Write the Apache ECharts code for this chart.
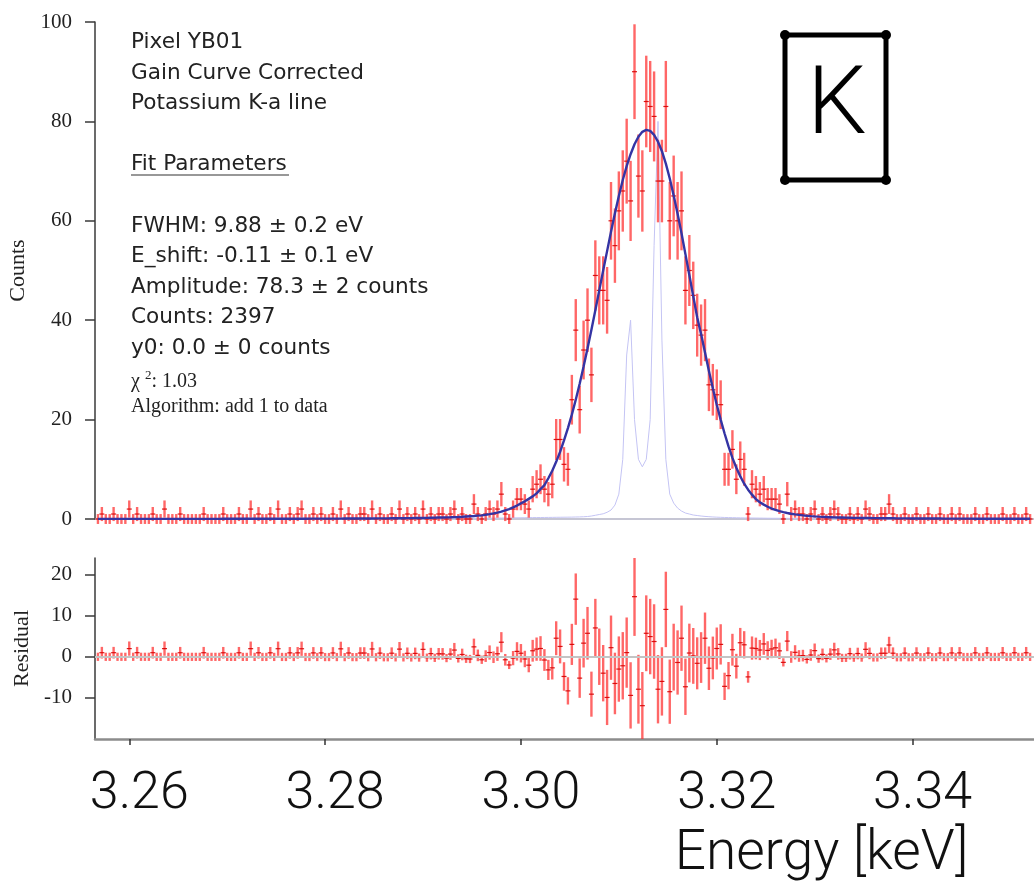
<!DOCTYPE html>
<html><head><meta charset="utf-8">
<script src="https://cdn.jsdelivr.net/npm/echarts@6/dist/echarts.min.js"></script>
<style>html,body{margin:0;padding:0;background:#fff}#c{width:1034px;height:881px}</style>
</head><body><div id="c"></div>
<script>
// ---- data ----
const energy = [
3.2568,3.2572,3.2576,3.2580,3.2584,3.2588,3.2592,3.2596,3.2600,3.2604,
3.2608,3.2612,3.2616,3.2620,3.2624,3.2628,3.2632,3.2636,3.2640,3.2644,
3.2648,3.2652,3.2656,3.2660,3.2664,3.2668,3.2672,3.2676,3.2680,3.2684,
3.2688,3.2692,3.2696,3.2700,3.2704,3.2708,3.2712,3.2716,3.2720,3.2724,
3.2728,3.2732,3.2736,3.2740,3.2744,3.2748,3.2752,3.2756,3.2760,3.2764,
3.2768,3.2772,3.2776,3.2780,3.2784,3.2788,3.2792,3.2796,3.2800,3.2804,
3.2808,3.2812,3.2816,3.2820,3.2824,3.2828,3.2832,3.2836,3.2840,3.2844,
3.2848,3.2852,3.2856,3.2860,3.2864,3.2868,3.2872,3.2876,3.2880,3.2884,
3.2888,3.2892,3.2896,3.2900,3.2904,3.2908,3.2912,3.2916,3.2920,3.2924,
3.2928,3.2932,3.2936,3.2940,3.2944,3.2948,3.2952,3.2956,3.2960,3.2964,
3.2968,3.2972,3.2976,3.2980,3.2984,3.2988,3.2992,3.2996,3.3000,3.3004,
3.3008,3.3012,3.3016,3.3020,3.3024,3.3028,3.3032,3.3036,3.3040,3.3044,
3.3048,3.3052,3.3056,3.3060,3.3064,3.3068,3.3072,3.3076,3.3080,3.3084,
3.3088,3.3092,3.3096,3.3100,3.3104,3.3108,3.3112,3.3116,3.3120,3.3124,
3.3128,3.3132,3.3136,3.3140,3.3144,3.3148,3.3152,3.3156,3.3160,3.3164,
3.3168,3.3172,3.3176,3.3180,3.3184,3.3188,3.3192,3.3196,3.3200,3.3204,
3.3208,3.3212,3.3216,3.3220,3.3224,3.3228,3.3232,3.3236,3.3240,3.3244,
3.3248,3.3252,3.3256,3.3260,3.3264,3.3268,3.3272,3.3276,3.3280,3.3284,
3.3288,3.3292,3.3296,3.3300,3.3304,3.3308,3.3312,3.3316,3.3320,3.3324,
3.3328,3.3332,3.3336,3.3340,3.3344,3.3348,3.3352,3.3356,3.3360,3.3364,
3.3368,3.3372,3.3376,3.3380,3.3384,3.3388,3.3392,3.3396,3.3400,3.3404,
3.3408,3.3412,3.3416,3.3420,3.3424,3.3428,3.3432,3.3436,3.3440,3.3444,
3.3448,3.3452,3.3456,3.3460,3.3464,3.3468,3.3472,3.3476,3.3480,3.3484,
3.3488,3.3492,3.3496,3.3500,3.3504,3.3508,3.3512,3.3516,3.3520];

const counts = [
0,1,0,0,1,0,0,0,2,0,
1,0,0,0,1,0,0,2,0,0,
0,1,0,0,0,0,0,1,0,0,
0,0,1,0,0,0,1,0,0,2,
0,1,0,0,1,0,2,0,0,1,
0,1,2,0,0,1,0,1,0,0,
1,0,2,0,1,0,0,1,1,0,
2,0,1,0,0,1,0,2,0,1,
0,1,0,2,0,1,0,1,1,0,
1,2,0,1,0,0,3,1,0,1,
2,1,2,5,1,0,2,4,4,3,
2,6,7,8,6,5,7,16,16,11,
10,24,38,22,34,40,29,49,46,46,
44,60,55,62,66,72,64,90,69,66,
84,83,81,68,68,83,60,65,60,62,
46,50,45,39,37,38,27,26,25,23,
10,10,14,8,12,10,1,7,6,5,
6,4,4,4,3,0,5,1,2,1,
1,0,1,2,0,1,0,1,2,1,
0,0,1,0,1,0,2,1,0,0,
1,1,3,1,0,0,1,0,0,1,
0,0,1,0,0,1,0,0,1,0,
1,0,0,0,1,0,0,1,0,0,
0,1,0,0,1,0,0,1,0];

const fit = [
0.02,0.02,0.02,0.02,0.02,0.02,0.02,0.02,0.02,0.02,
0.02,0.02,0.02,0.02,0.02,0.03,0.03,0.03,0.03,0.03,
0.03,0.03,0.03,0.03,0.03,0.03,0.03,0.03,0.03,0.03,
0.03,0.03,0.04,0.04,0.04,0.04,0.04,0.04,0.04,0.04,
0.04,0.05,0.05,0.05,0.05,0.05,0.05,0.05,0.06,0.06,
0.06,0.06,0.06,0.06,0.07,0.07,0.07,0.07,0.08,0.08,
0.08,0.08,0.08,0.09,0.09,0.09,0.10,0.10,0.10,0.11,
0.11,0.12,0.12,0.13,0.13,0.14,0.15,0.15,0.16,0.17,
0.18,0.19,0.20,0.21,0.23,0.25,0.27,0.29,0.31,0.33,
0.35,0.38,0.41,0.45,0.50,0.55,0.60,0.67,0.74,0.85,
0.98,1.12,1.28,1.47,1.74,2.0,2.34,2.7,3.15,3.55,
4.05,4.55,5.15,6.0,6.8,8.2,9.7,11.5,13.5,15.8,
18.3,21.0,24.0,27.2,30.7,34.3,38.1,42.0,46.0,50.0,
53.9,57.8,61.5,65.0,68.2,71.0,73.4,75.4,76.9,77.9,
78.3,78.1,77.3,75.9,74.0,71.5,68.5,65.1,61.4,57.5,
53.3,49.1,44.8,40.6,37.2,33.5,29.8,26.3,23.0,20.0,
17.2,14.6,12.3,10.3,8.6,7.1,5.9,4.9,4.0,3.37,
2.89,2.47,2.11,1.83,1.57,1.37,1.2,1.06,0.93,0.82,
0.73,0.65,0.58,0.52,0.47,0.43,0.39,0.36,0.33,0.31,
0.29,0.27,0.25,0.23,0.22,0.21,0.20,0.19,0.18,0.17,
0.16,0.15,0.15,0.14,0.13,0.13,0.12,0.12,0.11,0.11,
0.10,0.10,0.10,0.09,0.09,0.09,0.08,0.08,0.08,0.08,
0.07,0.07,0.07,0.07,0.06,0.06,0.06,0.06,0.06,0.05,
0.05,0.05,0.05,0.05,0.04,0.04,0.04,0.04,0.04];

const lineShape = [
0.01,0.01,0.01,0.01,0.01,0.01,0.01,0.01,0.01,0.01,
0.01,0.01,0.01,0.01,0.01,0.01,0.01,0.01,0.01,0.01,
0.02,0.02,0.02,0.02,0.02,0.02,0.02,0.02,0.02,0.02,
0.02,0.02,0.02,0.02,0.02,0.02,0.02,0.02,0.02,0.02,
0.02,0.02,0.03,0.03,0.03,0.03,0.03,0.03,0.03,0.03,
0.03,0.03,0.03,0.04,0.04,0.04,0.04,0.04,0.04,0.04,
0.04,0.04,0.05,0.05,0.05,0.05,0.05,0.05,0.05,0.05,
0.05,0.05,0.05,0.05,0.05,0.05,0.06,0.06,0.06,0.06,
0.06,0.06,0.07,0.07,0.08,0.08,0.09,0.09,0.10,0.10,
0.11,0.11,0.12,0.12,0.13,0.14,0.14,0.15,0.16,0.17,
0.17,0.18,0.19,0.20,0.21,0.22,0.23,0.24,0.25,0.26,
0.27,0.28,0.29,0.30,0.31,0.32,0.33,0.34,0.35,0.36,
0.37,0.38,0.40,0.42,0.45,0.5,0.6,0.75,0.9,1.05,
1.35,1.8,2.8,5.0,12,33,40,20,12,10.5,
12,20,55,80,36,12,5,3.2,2.2,1.6,
1.2,1.0,0.8,0.7,0.6,0.52,0.46,0.41,0.37,0.34,
0.31,0.29,0.27,0.25,0.23,0.22,0.21,0.2,0.19,0.18,
0.17,0.16,0.15,0.15,0.14,0.13,0.13,0.12,0.12,0.11,
0.11,0.1,0.1,0.1,0.09,0.09,0.09,0.08,0.08,0.08,
0.08,0.07,0.07,0.07,0.07,0.07,0.06,0.06,0.06,0.06,
0.06,0.06,0.05,0.05,0.05,0.05,0.05,0.05,0.05,0.05,
0.04,0.04,0.04,0.04,0.04,0.04,0.04,0.04,0.04,0.04,
0.04,0.04,0.04,0.04,0.03,0.03,0.03,0.03,0.03,0.03,
0.03,0.03,0.03,0.03,0.03,0.03,0.03,0.03,0.03];

const energyTicks = [3.26, 3.28, 3.30, 3.32, 3.34];
const countTicks = [0, 20, 40, 60, 80, 100];
const residualTicks = [-10, 0, 10, 20];

const infoLines = ['Pixel YB01', 'Gain Curve Corrected', 'Potassium K-a line', '',
  'Fit Parameters', '', 'FWHM: 9.88 \u00b1 0.2 eV', 'E_shift: -0.11 \u00b1 0.1 eV',
  'Amplitude: 78.3 \u00b1 2 counts', 'Counts: 2397', 'y0: 0.0 \u00b1 0 counts'];
const chiValue = '1.03';
const algorithmText = 'Algorithm: add 1 to data';
const badgeText = 'K';

// ---- derived series ----
const errs = counts.map(c => Math.sqrt(c + 1));        // "add 1 to data"
const topBars = energy.map((e, i) => [e, counts[i], errs[i]]);
const resBars = energy.map((e, i) => [e, +(counts[i] - fit[i]).toFixed(2), errs[i]]);
const fitLine = energy.map((e, i) => [e, fit[i]]);
const shapeLine = energy.map((e, i) => [e, lineShape[i]]);

function errorBar(params, api) {
  const x = api.value(0), y = api.value(1), e = api.value(2);
  const lo = api.coord([x, y - e]), hi = api.coord([x, y + e]), c = api.coord([x, y]);
  return { type: 'group', children: [
    { type: 'line', shape: { x1: lo[0], y1: lo[1], x2: hi[0], y2: hi[1] },
      style: { stroke: 'rgba(255,45,45,0.72)', lineWidth: 2.4 } },
    { type: 'line', shape: { x1: c[0] - 2.5, y1: c[1], x2: c[0] + 2.5, y2: c[1] },
      style: { stroke: 'rgba(215,0,0,0.9)', lineWidth: 1.2 } }
  ]};
}

const XMIN = 3.2565, XMAX = 3.3524;
const serif = 'Liberation Serif';
const chart = echarts.init(document.getElementById('c'), null, { renderer: 'canvas' });

chart.setOption({
  animation: false,
  backgroundColor: '#fff',
  grid: [
    { left: 95, right: 0, top: 22, height: 497, outerBoundsMode: 'none', containLabel: false },
    { left: 95, right: 0, top: 558, height: 181, outerBoundsMode: 'none', containLabel: false }
  ],
  xAxis: [
    { gridIndex: 0, type: 'value', min: XMIN, max: XMAX,
      axisLine: { show: true, onZero: true, lineStyle: { color: '#b4b4c6', width: 1.5 } },
      axisTick: { show: false }, axisLabel: { show: false }, splitLine: { show: false } },
    { gridIndex: 1, type: 'value', min: XMIN, max: XMAX,
      axisLine: { show: true, onZero: false, lineStyle: { color: '#8c8c8c', width: 2.5 } },
      axisTick: { show: true, customValues: energyTicks, length: 6, lineStyle: { color: '#333', width: 1.5 } },
      axisLabel: { customValues: energyTicks, formatter: v => v.toFixed(2),
        fontFamily: 'Roboto', fontWeight: 300, fontSize: 52, lineHeight: 52, color: '#111',
        margin: 30, padding: [0, 0, 0, 20] },
      splitLine: { show: false },
      name: 'Energy [keV]', nameLocation: 'middle', nameGap: 89,
      nameTextStyle: { fontFamily: 'Roboto', fontWeight: 300, fontSize: 55, lineHeight: 55, color: '#111',
        padding: [0, 0, 0, 514] } }
  ],
  yAxis: [
    { gridIndex: 0, type: 'value', min: 0, max: 100, interval: 20,
      axisLine: { show: true, lineStyle: { color: '#3a3a3a', width: 1.5 } },
      axisTick: { show: true, customValues: countTicks, length: 10, lineStyle: { color: '#3a3a3a', width: 1.5 } },
      axisLabel: { customValues: countTicks, fontFamily: serif, fontSize: 21, color: '#222', margin: 23 },
      splitLine: { show: false },
      name: 'Counts', nameLocation: 'middle', nameRotate: 90, nameGap: 62,
      nameTextStyle: { fontFamily: serif, fontSize: 22, color: '#222' } },
    { gridIndex: 1, type: 'value', min: -20, max: 24, interval: 10,
      axisLine: { show: true, onZero: false, lineStyle: { color: '#3a3a3a', width: 1.5 } },
      axisTick: { show: true, customValues: residualTicks, length: 10, lineStyle: { color: '#3a3a3a', width: 1.5 } },
      axisLabel: { customValues: residualTicks, fontFamily: serif, fontSize: 21, color: '#222', margin: 23 },
      splitLine: { show: false },
      name: 'Residual', nameLocation: 'middle', nameRotate: 90, nameGap: 62,
      nameTextStyle: { fontFamily: serif, fontSize: 22, color: '#222' } }
  ],
  series: [
    { type: 'line', xAxisIndex: 0, yAxisIndex: 0, data: shapeLine, showSymbol: false, silent: true,
      lineStyle: { color: '#c4c4f4', width: 1 }, z: 1 },
    { type: 'custom', xAxisIndex: 0, yAxisIndex: 0, data: topBars, renderItem: errorBar,
      encode: { x: 0, y: 1 }, clip: false, silent: true, z: 2 },
    { type: 'line', xAxisIndex: 0, yAxisIndex: 0, data: fitLine, showSymbol: false, silent: true,
      lineStyle: { color: '#3434a4', width: 2.4 }, z: 3 },
    { type: 'custom', xAxisIndex: 1, yAxisIndex: 1, data: resBars, renderItem: errorBar,
      encode: { x: 0, y: 1 }, clip: true, silent: true, z: 2,
      markLine: { silent: true, symbol: 'none', label: { show: false },
        lineStyle: { color: '#c4c4c4', width: 2, type: 'solid' }, data: [{ yAxis: 0 }] } }
  ],
  graphic: [
    { type: 'text', x: 131, y: 27, silent: true,
      style: { text: infoLines.join('\n'), fontFamily: 'DejaVu Sans', fontSize: 21.6, lineHeight: 30.6,
        fill: '#222', verticalAlign: 'top' } },
    { type: 'line', silent: true, shape: { x1: 131, y1: 175, x2: 289, y2: 175 },
      style: { stroke: '#333', lineWidth: 1.2 } },
    { type: 'text', x: 131, y: 369, silent: true,
      style: { text: '{c|\u03c7 }{s|2}{c|: ' + chiValue + '}\n{c|' + algorithmText + '}',
        verticalAlign: 'top', fill: '#222',
        rich: { c: { fontFamily: serif, fontSize: 20, lineHeight: 25, fill: '#222' },
                s: { fontFamily: serif, fontSize: 13, lineHeight: 25, fill: '#222', verticalAlign: 'top', padding: [0, 0, 10, 0] } } } },
    { type: 'rect', silent: true, shape: { x: 785, y: 35, width: 101, height: 145, r: 3 },
      style: { fill: 'none', stroke: '#000', lineWidth: 5 } },
    { type: 'circle', silent: true, shape: { cx: 785, cy: 35, r: 5 }, style: { fill: '#000' } },
    { type: 'circle', silent: true, shape: { cx: 886, cy: 35, r: 5 }, style: { fill: '#000' } },
    { type: 'circle', silent: true, shape: { cx: 785, cy: 180, r: 5 }, style: { fill: '#000' } },
    { type: 'circle', silent: true, shape: { cx: 886, cy: 180, r: 5 }, style: { fill: '#000' } },
    { type: 'text', x: 837, y: 109, silent: true,
      style: { text: badgeText, fontFamily: 'Roboto', fontWeight: 300, fontSize: 94,
        fill: '#000', align: 'center', verticalAlign: 'middle' } }
  ]
});
</script>
</body></html>
